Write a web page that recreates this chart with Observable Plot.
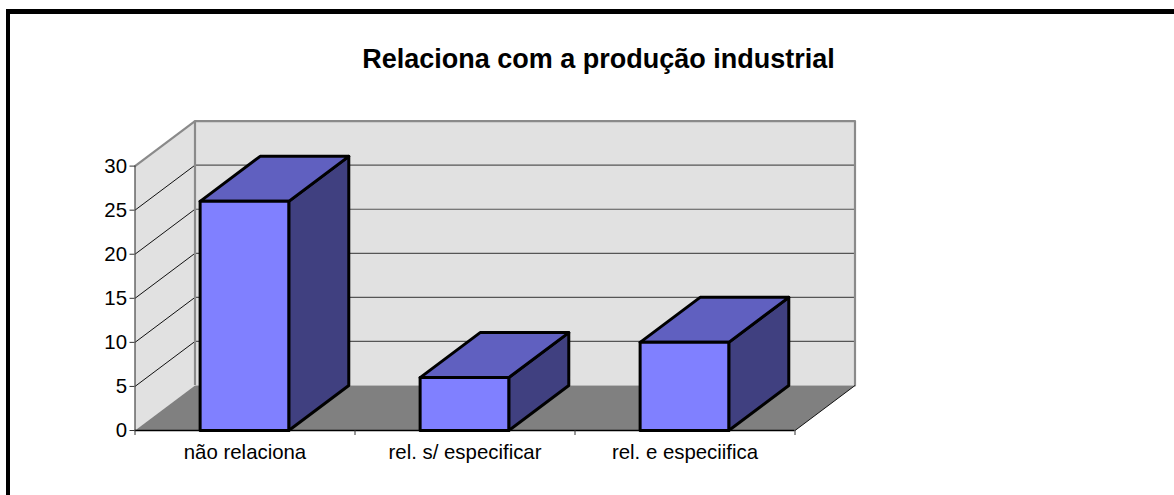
<!DOCTYPE html>
<html lang="pt">
<head>
<meta charset="utf-8">
<script src="https://cdn.jsdelivr.net/npm/d3@7"></script>
<script src="https://cdn.jsdelivr.net/npm/@observablehq/plot@0.6"></script>
<style>
  html, body { margin: 0; padding: 0; background: #fff; overflow: hidden; }
  #page { position: relative; width: 1174px; height: 495px; font-family: "Liberation Sans", Arial, sans-serif; }
  #border { position: absolute; left: 6px; top: 9px; right: 0; bottom: 0; border-top: 5px solid #000; border-left: 4px solid #000; pointer-events: none; }
  #title { height: 100px; box-sizing: border-box; padding-top: 44px; width: 1197px; text-align: center; font-weight: bold; font-size: 27px; line-height: 30px; color: #000; }
  svg { display: block; }
</style>
</head>
<body>
<div id="page">
  <div id="border"></div>
  <div id="title"></div>
  <div id="chart"></div>
</div>
<script>
const chartTitle = "Relaciona com a produção industrial";
const categories = ["não relaciona", "rel. s/ especificar", "rel. e especiifica"];
const values = [26, 6, 10];
const yTicks = [0, 5, 10, 15, 20, 25, 30];
const colors = { front: "#8080ff", top: "#6060c0", side: "#404080", wall: "#e1e1e1", floor: "#808080", edge: "#8a8a8a", grid: "#555555" };

// Oblique depth of the 3-D box, in data units
const depthX = 60 / 220;
const depthY = 45 / (264.4 / 30);
const barStart = 0.296, barEnd = 0.699;
const maxY = 30, n = categories.length;

const face = (pts, fill, stroke, strokeWidth) =>
  Plot.line(pts.map(([x, y]) => ({x, y})), {x: "x", y: "y", fill, stroke, strokeWidth, curve: "linear-closed"});

const barMarks = values.flatMap((v, i) => {
  const a = i + barStart, b = i + barEnd;
  return [
    face([[b, 0], [b + depthX, depthY], [b + depthX, v + depthY], [b, v]], colors.side, "#000", 3),
    face([[a, v], [b, v], [b + depthX, v + depthY], [a + depthX, v + depthY]], colors.top, "#000", 3),
    face([[a, 0], [b, 0], [b, v], [a, v]], colors.front, "#000", 3)
  ];
});

const chart = Plot.plot({
  width: 1174,
  height: 395,
  marginLeft: 134.5,
  marginRight: 379.5,
  marginTop: 65.6,
  marginBottom: 65,
  x: {domain: [0, n], axis: null},
  y: {domain: [0, maxY], axis: null},
  style: {fontFamily: "'Liberation Sans', Arial, sans-serif", background: "transparent", color: "#000", overflow: "visible"},
  marks: [
    // walls and floor
    face([[0, 0], [depthX, depthY], [depthX, maxY + depthY], [0, maxY]], colors.wall, "none", 0),
    face([[depthX, depthY], [n + depthX, depthY], [n + depthX, maxY + depthY], [depthX, maxY + depthY]], colors.wall, "none", 0),
    // gridlines on both walls
    Plot.ruleY(yTicks.slice(1, -1), {y: d => d + depthY, x1: depthX, x2: n + depthX, stroke: colors.grid, strokeWidth: 1.2}),
    Plot.link(yTicks.slice(1, -1), {x1: 0, y1: d => d, x2: depthX, y2: d => d + depthY, stroke: "#111", strokeWidth: 1}),
    // wall outline
    Plot.line([[0, maxY], [depthX, maxY + depthY], [n + depthX, maxY + depthY], [n + depthX, depthY]].map(([x, y]) => ({x, y})), {x: "x", y: "y", stroke: colors.edge, strokeWidth: 2.2}),
    Plot.ruleX([depthX], {y1: depthY, y2: maxY + depthY, stroke: colors.edge, strokeWidth: 2.2}),
    face([[0, 0], [n, 0], [n + depthX, depthY], [depthX, depthY]], colors.floor, "none", 0),
    Plot.link([n], {x1: d => d, y1: 0, x2: d => d + depthX, y2: depthY, stroke: "#111", strokeWidth: 1}),
    // axis lines
    Plot.ruleX([0], {y1: 0, y2: maxY, stroke: "#444", strokeWidth: 1.2}),
    // bars
    ...barMarks,
    Plot.ruleY([0], {x1: 0, x2: n, stroke: "#000", strokeWidth: 1.3}),
    // axes
    Plot.axisY({ticks: yTicks, tickSize: 5, tickPadding: 3, fontSize: 20.4, label: null, stroke: "#333", tickFormat: d => String(d)}),
    Plot.axisX({ticks: d3.range(n + 1), tickSize: 5, tickFormat: () => "", label: null, stroke: "#333"}),
    Plot.axisX({ticks: categories.map((_, i) => i + 0.5), tickSize: 0, tickPadding: 14, fontSize: 20.4, label: null, tickFormat: d => categories[d - 0.5]})
  ]
});

document.getElementById("title").textContent = chartTitle;
document.getElementById("chart").appendChild(chart);
</script>
</body>
</html>
